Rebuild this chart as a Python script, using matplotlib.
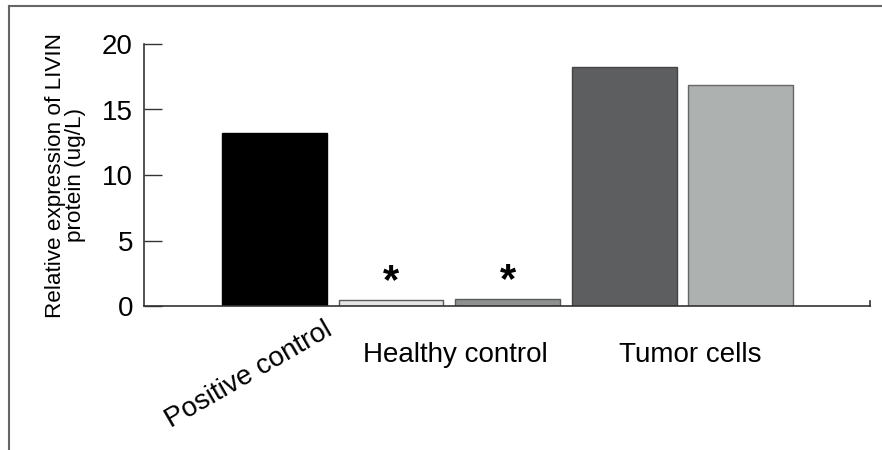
import matplotlib
matplotlib.use("Agg")
import matplotlib.pyplot as plt
from matplotlib.lines import Line2D

plt.rcParams['font.family'] = ['Liberation Sans', 'DejaVu Sans']

# Data
bar_values = [13.2, 0.47, 0.52, 18.25, 16.9]
bar_colors = ['#000000', '#e4e5e5', '#8e9190', '#5d5e60', '#adb1b0']
bar_edges = ['#000000', '#5a5a5a', '#5a5a5a', '#444444', '#666666']
significant = [False, True, True, False, False]
group_labels = ['Positive control', 'Healthy control', 'Tumor cells']
yticks = [0, 5, 10, 15, 20]
ylabel = 'Relative expression of LIVIN\nprotein (ug/L)'

fig = plt.figure(figsize=(8.82, 4.5), dpi=100)
ax = fig.add_axes([144/882, 1-306/450, (870-144)/882, (306-44)/450])

x = list(range(len(bar_values)))
ax.bar(x, bar_values, width=0.9, color=bar_colors, edgecolor=bar_edges, linewidth=1.0, zorder=2)

for xi, v, s in zip(x, bar_values, significant):
    if s:
        ax.annotate('*', xy=(xi, v), xytext=(0, 13), textcoords='offset points',
                    ha='center', va='center', fontsize=30, fontweight='bold')

ax.set_xlim(-1.12, 5.11)
ax.set_ylim(0, 20)
ax.set_yticks(yticks)
ax.set_yticklabels([str(t) for t in yticks], fontsize=20)
ax.set_xticks([])
ax.tick_params(axis='y', direction='in', length=13, width=1.0, color='#333333', pad=8)

ax.spines['top'].set_visible(False)
ax.spines['right'].set_bounds(0, 0.4)
for sp in ['left', 'bottom', 'right']:
    ax.spines[sp].set_color('#333333')
    ax.spines[sp].set_linewidth(1.2)

ax.set_ylabel(ylabel, fontsize=16.2, linespacing=0.92)
ax.yaxis.set_label_coords(-0.08, 0.5)

# Group labels
ax.annotate(group_labels[0], xy=(0.55, 0), xycoords=('data', 'axes fraction'),
            xytext=(-11, -8), textcoords='offset points',
            ha='right', va='top', rotation=30, rotation_mode='anchor', fontsize=20)
ax.annotate(group_labels[1], xy=(1.55, 0), xycoords=('data', 'axes fraction'),
            xytext=(0, -40), textcoords='offset points',
            ha='center', va='baseline', fontsize=20)
ax.annotate(group_labels[2], xy=(3.57, 0), xycoords=('data', 'axes fraction'),
            xytext=(0, -40), textcoords='offset points',
            ha='center', va='baseline', fontsize=20)

# Figure border (top and left)
fig.add_artist(Line2D([9/882, 1], [1-6/450, 1-6/450], transform=fig.transFigure, color='#666666', linewidth=1.5))
fig.add_artist(Line2D([9/882, 9/882], [0, 1-6/450], transform=fig.transFigure, color='#666666', linewidth=1.5))

fig.savefig('out.png', dpi=100)
